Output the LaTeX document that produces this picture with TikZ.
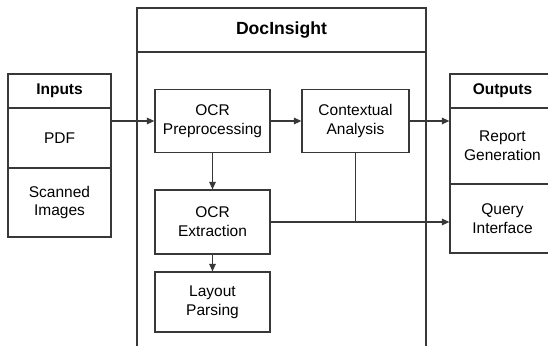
\documentclass[tikz,border=0pt]{standalone}
\usepackage{fontspec}
\setmainfont{Liberation Sans}
\usepackage{xcolor}
\usepackage{tikz}
\usetikzlibrary{arrows.meta}

\colorlet{edgegray}{black!78}

\begin{document}
\begin{tikzpicture}[x=1pt, y=-1pt,
  every node/.style={font=\fontsize{15.5}{18.7}\selectfont, align=center},
  box/.style={draw=edgegray, line width=1.2pt, minimum width=#1, inner sep=0pt},
  flow/.style={draw=edgegray, line width=1.2pt, -{Triangle[length=7.5pt,width=6.5pt]}},
  wire/.style={draw=edgegray, line width=1.2pt}]
\useasboundingbox (0,0) rectangle (548,345);
% main application frame
\draw[wire] (137,8) rectangle (426,360);
\draw[wire] (137,52) -- (426,52);
\node[font=\fontsize{17.6}{21}\selectfont\bfseries] (title) at (281.5,30) {DocInsight};
% inputs column
\node[box=103pt, minimum height=34pt, font=\fontsize{15.5}{18.7}\selectfont\bfseries] (inhead) at (59.5,91) {Inputs};
\node[box=103pt, minimum height=60pt] (pdf) at (59.5,138) {PDF};
\node[box=103pt, minimum height=69pt] (scan) at (59.5,202.5) {Scanned\\Images};
% outputs column
\node[box=105pt, minimum height=34pt, font=\fontsize{15.5}{18.7}\selectfont\bfseries] (outhead) at (502.5,91) {Outputs};
\node[box=105pt, minimum height=76pt] (report) at (502.5,146) {Report\\Generation};
\node[box=105pt, minimum height=69pt] (query) at (502.5,218.5) {Query\\Interface};
% processing stages
\node[box=115pt, minimum height=63pt] (prep) at (212.5,121) {OCR\\Preprocessing};
\node[box=107pt, minimum height=63pt] (ctx) at (355.5,121) {Contextual\\Analysis};
\node[box=115pt, minimum height=64pt] (ext) at (212.5,222) {OCR\\Extraction};
\node[box=115pt, minimum height=60pt] (lay) at (212.5,302) {Layout\\Parsing};
% connectors
\draw[flow] (prep.west -| pdf.east) -- (prep.west);
\draw[flow] (prep) -- (ctx);
\draw[flow] (ctx.east) -- (ctx.east -| report.west);
\draw[flow] (prep) -- (ext);
\draw[flow] (ext) -- (lay);
\draw[flow] (ext.east) -- (ext.east -| query.west);
\draw[wire] (ctx.south) -- (ctx.south |- ext.east);
\end{tikzpicture}
\end{document}
